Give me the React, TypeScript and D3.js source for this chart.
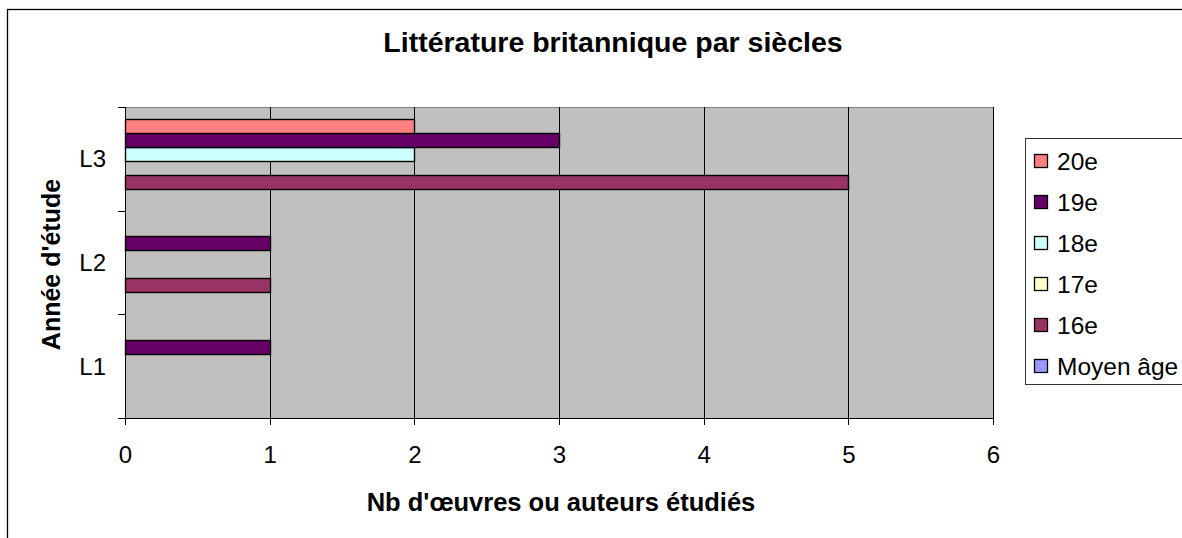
import React from "react";
import * as d3 from "d3";

// ---- data ----
const categories = ["L1", "L2", "L3"];
const seriesNames = ["Moyen âge", "16e", "17e", "18e", "19e", "20e"];
const seriesColors = ["#9999FF", "#993366", "#FFFFCC", "#CCFFFF", "#660066", "#FF8080"];
const valuesMoyenAge = [0, 0, 0];
const values16e = [0, 1, 5];
const values17e = [0, 0, 0];
const values18e = [0, 0, 2];
const values19e = [1, 1, 3];
const values20e = [0, 0, 2];
const xTickValues = [0, 1, 2, 3, 4, 5, 6];
const chartTitle = "Littérature britannique par siècles";
const xTitle = "Nb d'œuvres ou auteurs étudiés";
const yTitle = "Année d'étude";

const seriesValues = [valuesMoyenAge, values16e, values17e, values18e, values19e, values20e];

const W = 1182;
const H = 538;
const FONT = "'Liberation Sans', Arial, sans-serif";

export default function App() {
  const left = 125, right = 993, top = 107, bottom = 418;
  const x = d3.scaleLinear().domain([0, 6]).range([left, right]);
  // categories drawn bottom-to-top (L1 at bottom)
  const y = d3.scaleBand<string>().domain([...categories].reverse()).range([top, bottom]).padding(0);
  // within a group, first series at the bottom
  const inner = d3
    .scaleBand<string>()
    .domain([...seriesNames].reverse())
    .range([0, y.bandwidth()])
    .paddingInner(0)
    .paddingOuter(0.7)
    .align(0.6);

  const px = (v: number) => Math.round(v) + 0.5;
  const boundaries = [top, ...categories.map((c) => (y(c) as number) + y.bandwidth())];

  const legendTop = 161;
  const legendStep = 41;

  return (
    <svg
      width={W}
      height={H}
      style={{ position: "absolute", left: 0, top: 0, background: "#fff" }}
      fontFamily={FONT}
    >
      <rect x={0} y={0} width={W} height={H} fill="#fff" />
      {/* chart area border */}
      <rect x={7.5} y={9.5} width={1300} height={700} fill="none" stroke="#000" strokeWidth={1.3} />

      {/* title */}
      <text x={613} y={52} textAnchor="middle" fontSize={28.5} fontWeight="bold" fill="#000">
        {chartTitle}
      </text>

      {/* plot area */}
      <rect x={px(left)} y={px(top)} width={right - left} height={bottom - top} fill="#C0C0C0" stroke="#808080" strokeWidth={1} />

      {/* vertical gridlines */}
      {xTickValues.slice(1).map((t) => (
        <line key={"g" + t} x1={px(x(t))} x2={px(x(t))} y1={top} y2={bottom} stroke="#000" strokeWidth={1} />
      ))}

      {/* bars */}
      {seriesNames.map((s, si) =>
        categories.map((c, ci) => {
          const v = seriesValues[si][ci];
          if (v <= 0) return null;
          const y0 = (y(c) as number) + (inner(s) as number);
          return (
            <rect
              key={s + c}
              x={px(x(0))}
              y={Math.round(y0) + 0.5}
              width={Math.round(x(v) - x(0))}
              height={Math.round(inner.bandwidth())}
              fill={seriesColors[si]}
              stroke="#000"
              strokeWidth={1.4}
            />
          );
        })
      )}

      {/* axes lines */}
      <line x1={px(left)} x2={px(left)} y1={top} y2={bottom + 0.5} stroke="#000" />
      <line x1={left} x2={right + 1} y1={px(bottom)} y2={px(bottom)} stroke="#000" />

      {/* y ticks at category boundaries */}
      {boundaries.map((b, i) => (
        <line key={"yt" + i} x1={left - 7} x2={left} y1={px(b)} y2={px(b)} stroke="#000" />
      ))}
      {/* y labels */}
      {categories.map((c) => (
        <text
          key={"yl" + c}
          x={106}
          y={(y(c) as number) + y.bandwidth() / 2}
          dy="0.35em"
          textAnchor="end"
          fontSize={24}
          fill="#000"
        >
          {c}
        </text>
      ))}

      {/* x ticks */}
      {xTickValues.map((t) => (
        <g key={"xt" + t}>
          <line x1={px(x(t))} x2={px(x(t))} y1={bottom} y2={bottom + 7} stroke="#000" />
          <text x={x(t) + 0.5} y={463} textAnchor="middle" fontSize={24} fill="#000">
            {t}
          </text>
        </g>
      ))}

      {/* axis titles */}
      <text x={561} y={511} textAnchor="middle" fontSize={25.5} fontWeight="bold" fill="#000">
        {xTitle}
      </text>
      <text
        transform={`translate(60, ${(top + bottom) / 2 + 2}) rotate(-90)`}
        textAnchor="middle"
        fontSize={25}
        fontWeight="bold"
        fill="#000"
      >
        {yTitle}
      </text>

      {/* legend */}
      <rect x={1025.5} y={138.5} width={300} height={246} fill="#fff" stroke="#333" strokeWidth={1} />
      {[...seriesNames].reverse().map((s, i) => {
        const si = seriesNames.indexOf(s);
        const cy = legendTop + i * legendStep;
        return (
          <g key={"lg" + s}>
            <rect x={1034.5} y={cy - 6.5} width={13} height={13} fill={seriesColors[si]} stroke="#000" strokeWidth={1.3} />
            <text x={1057} y={cy} dy="0.35em" fontSize={24.5} fill="#000">
              {s}
            </text>
          </g>
        );
      })}
    </svg>
  );
}
